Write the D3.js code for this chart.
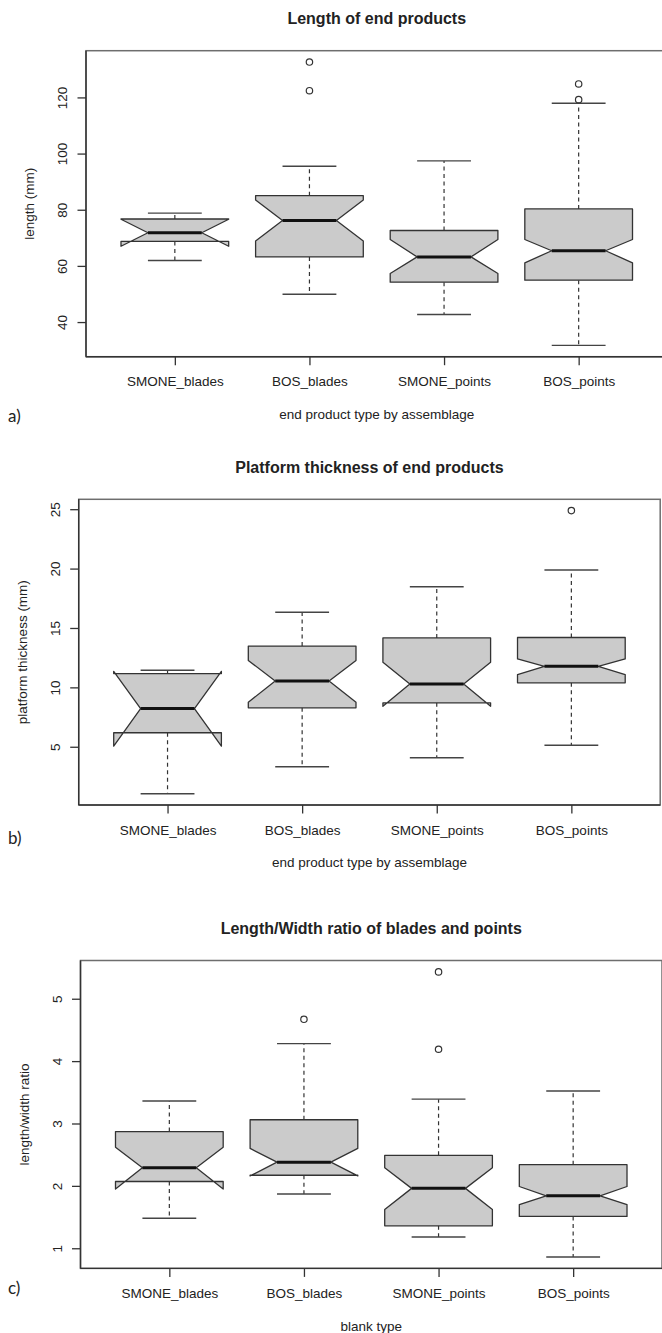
<!DOCTYPE html>
<html>
<head>
<meta charset="utf-8">
<script src="https://cdn.jsdelivr.net/npm/d3@7"></script>
<style>
  body { margin: 0; background: #fff; }
  svg { display: block; }
  text { font-family: "Liberation Sans", Arial, sans-serif; fill: #222; }
</style>
</head>
<body>
<svg id="chart" width="662" height="1333"></svg>
<script>
var groups = ["SMONE_blades", "BOS_blades", "SMONE_points", "BOS_points"];

// rows are [lower whisker, lower hinge, median, upper hinge, upper whisker]
var lengthStats = [[61.9, 68.7, 71.8, 76.7, 78.8], [49.9, 63.2, 76.2, 85.0, 95.5], [42.7, 54.2, 63.2, 72.6, 97.4], [31.7, 54.9, 65.4, 80.3, 117.9]];
var lengthNotch = [[67.0, 76.6], [68.9, 83.5], [57.3, 69.4], [61.1, 69.4]];
var lengthOutliers = [[], [122.4, 132.6], [], [119.2, 124.8]];

var thickStats = [[1.05, 6.18, 8.22, 11.16, 11.44], [3.32, 8.28, 10.53, 13.48, 16.33], [4.08, 8.70, 10.28, 14.16, 18.47], [5.13, 10.38, 11.77, 14.2, 19.88]];
var thickNotch = [[5.05, 11.35], [8.75, 12.27], [8.41, 12.11], [11.08, 12.39]];
var thickOutliers = [[], [], [], [24.88]];

var ratioStats = [[1.48, 2.07, 2.29, 2.87, 3.36], [1.87, 2.17, 2.38, 3.06, 4.28], [1.18, 1.36, 1.96, 2.49, 3.39], [0.86, 1.51, 1.84, 2.34, 3.52]];
var ratioNotch = [[1.95, 2.62], [2.16, 2.60], [1.62, 2.29], [1.70, 1.99]];
var ratioOutliers = [[], [4.67], [4.19, 5.43], []];

function draw_boxplot(svg, p) {
  var right = p.left + 581.5;
  var x = d3.scalePoint().domain(groups).range([p.left, right]).padding(0.66);

  var all = d3.merge([p.stats.map(function (d) { return d[0]; }), p.stats.map(function (d) { return d[4]; }), d3.merge(p.outliers)]);
  var lo = d3.min(all), hi = d3.max(all), pad = (hi - lo) * 0.04;
  var y = d3.scaleLinear().domain([lo - pad, hi + pad]).range([p.bottom, p.top]);

  var g = svg.append("g");
  var cx = (p.left + right) / 2;

  // frame
  g.append("rect").attr("x", p.left).attr("y", p.top)
    .attr("width", right - p.left).attr("height", p.bottom - p.top)
    .attr("fill", "none").attr("stroke", "#6e6e6e").attr("stroke-width", 1.5);

  // y axis
  var yax = g.append("g").attr("transform", "translate(" + p.left + ",0)")
    .call(d3.axisLeft(y).ticks(5).tickSize(8.5).tickSizeOuter(0));
  yax.select(".domain").remove();
  g.append("line").attr("x1", p.left).attr("x2", p.left).attr("y1", p.top).attr("y2", p.bottom)
    .attr("stroke", "#333").attr("stroke-width", 1.4);
  yax.selectAll(".tick line").attr("stroke", "#333").attr("stroke-width", 1.3);
  yax.selectAll(".tick text")
    .attr("x", null).attr("dy", null).attr("y", null)
    .attr("transform", "translate(-23.5,0) rotate(-90)")
    .attr("text-anchor", "middle").attr("dominant-baseline", "central")
    .style("font-size", "13.5px").style("font-family", "Liberation Sans, Arial, sans-serif").attr("fill", "#333");

  // x axis
  var xax = g.append("g").attr("transform", "translate(0," + p.bottom + ")")
    .call(d3.axisBottom(x).tickSize(8.5).tickSizeOuter(0));
  xax.select(".domain").remove();
  xax.append("line").attr("x1", p.left).attr("x2", right).attr("stroke", "#333").attr("stroke-width", 1.4);
  xax.selectAll(".tick line").attr("stroke", "#333").attr("stroke-width", 1.3);
  xax.selectAll(".tick text").attr("y", 25).attr("dy", "0.35em")
    .style("font-size", "13.5px").style("font-family", "Liberation Sans, Arial, sans-serif").attr("fill", "#333");

  // boxes (R style notches)
  var w = x.step() * 0.4, nf = 0.5;
  groups.forEach(function (name, i) {
    var s = p.stats[i], n = p.notch[i], x0 = x(name);
    var pts = [[x0 - w, s[1]], [x0 + w, s[1]], [x0 + w, n[0]], [x0 + nf * w, s[2]], [x0 + w, n[1]],
               [x0 + w, s[3]], [x0 - w, s[3]], [x0 - w, n[1]], [x0 - nf * w, s[2]], [x0 - w, n[0]]];
    var bg = g.append("g");
    [[s[1], s[0]], [s[3], s[4]]].forEach(function (wk) {
      bg.append("line").attr("x1", x0).attr("x2", x0).attr("y1", y(wk[0])).attr("y2", y(wk[1]))
        .attr("stroke", "#333").attr("stroke-width", 1.2).attr("stroke-dasharray", "4,3.5");
      bg.append("line").attr("x1", x0 - w / 2).attr("x2", x0 + w / 2).attr("y1", y(wk[1])).attr("y2", y(wk[1]))
        .attr("stroke", "#444").attr("stroke-width", 1.4);
    });
    bg.append("path")
      .attr("d", "M" + pts.map(function (d) { return d[0] + "," + y(d[1]); }).join("L") + "Z")
      .attr("fill", "#cbcbcb").attr("stroke", "#333").attr("stroke-width", 1.3).attr("stroke-linejoin", "round");
    bg.append("line").attr("x1", x0 - nf * w).attr("x2", x0 + nf * w).attr("y1", y(s[2])).attr("y2", y(s[2]))
      .attr("stroke", "#111").attr("stroke-width", 3);
    bg.selectAll("circle").data(p.outliers[i]).enter().append("circle")
      .attr("cx", x0).attr("cy", function (d) { return y(d); }).attr("r", 3.2)
      .attr("fill", "none").attr("stroke", "#333").attr("stroke-width", 1.2);
  });

  // titles and panel tag
  g.append("text").attr("x", cx).attr("y", p.top - 32).attr("dy", "0.35em")
    .attr("text-anchor", "middle").style("font-size", "16px").style("font-weight", "bold")
    .attr("fill", "#111").text(p.title);
  g.append("text").attr("x", cx).attr("y", p.bottom + 57.5).attr("dy", "0.35em")
    .attr("text-anchor", "middle").style("font-size", "13.5px").attr("fill", "#333").text(p.xlab);
  g.append("text").attr("transform", "translate(" + (p.left - 56.5) + "," + ((p.top + p.bottom) / 2) + ") rotate(-90)")
    .attr("dy", "0.35em").attr("text-anchor", "middle").style("font-size", "13.5px").attr("fill", "#333").text(p.ylab);
  g.append("text").attr("x", 8).attr("y", p.tagY).attr("dy", "0.35em")
    .style("font-family", "Lato, 'Open Sans', sans-serif").style("font-size", "17px").attr("fill", "#111").text(p.tag);
}

var svg = d3.select("#chart");
draw_boxplot(svg, { left: 86, top: 50.7, bottom: 356.7, stats: lengthStats, notch: lengthNotch, outliers: lengthOutliers,
  title: "Length of end products", ylab: "length (mm)", xlab: "end product type by assemblage", tag: "a)", tagY: 416 });
draw_boxplot(svg, { left: 78.7, top: 499.3, bottom: 805, stats: thickStats, notch: thickNotch, outliers: thickOutliers,
  title: "Platform thickness of end products", ylab: "platform thickness (mm)", xlab: "end product type by assemblage", tag: "b)", tagY: 838 });
draw_boxplot(svg, { left: 80.5, top: 960.5, bottom: 1268.4, stats: ratioStats, notch: ratioNotch, outliers: ratioOutliers,
  title: "Length/Width ratio of blades and points", ylab: "length/width ratio", xlab: "blank type", tag: "c)", tagY: 1288 });
</script>
</body>
</html>
